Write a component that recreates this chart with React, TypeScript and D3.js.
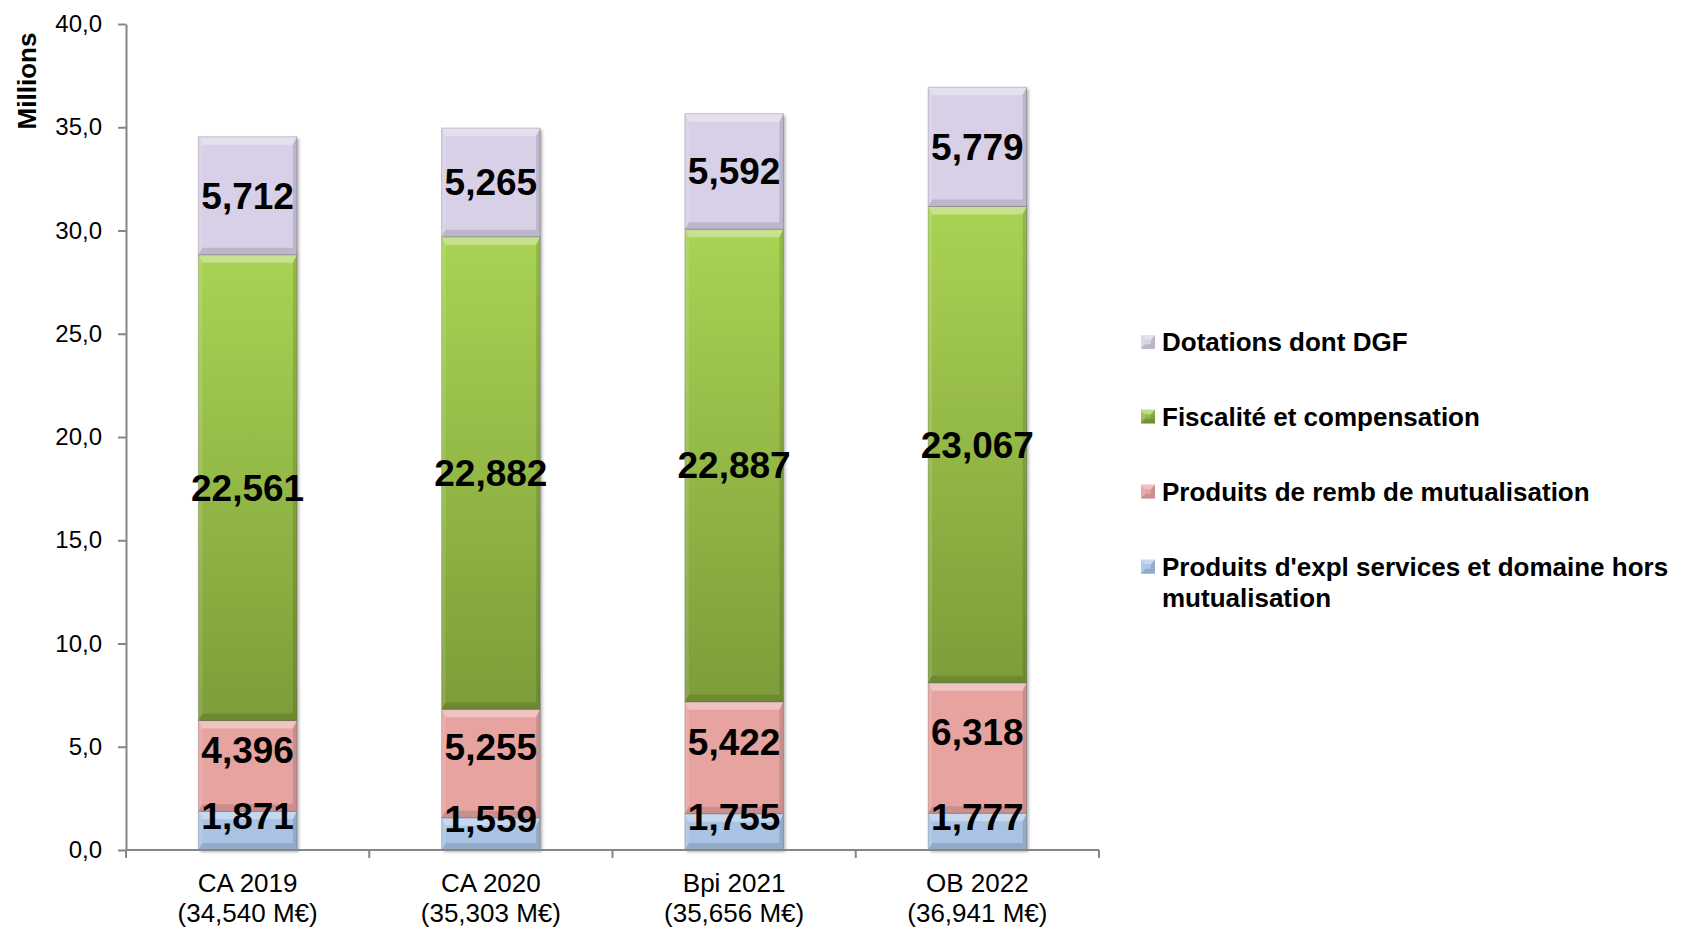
import React, { useEffect, useRef } from "react";
import * as d3 from "d3";

const categories = ["CA 2019", "CA 2020", "Bpi 2021", "OB 2022"];
const totalLabels = ["(34,540 M€)", "(35,303 M€)", "(35,656 M€)", "(36,941 M€)"];

const produitsExpl = [1.871, 1.559, 1.755, 1.777];
const produitsRemb = [4.396, 5.255, 5.422, 6.318];
const fiscalite = [22.561, 22.882, 22.887, 23.067];
const dotations = [5.712, 5.265, 5.592, 5.779];

const yTicks = [0, 5, 10, 15, 20, 25, 30, 35, 40];

// bottom to top
const series = [
  { key: "expl", name: ["Produits d'expl services et domaine hors", "mutualisation"], values: produitsExpl, color: "#a8c3e4", labelShift: -15 },
  { key: "remb", name: ["Produits de remb de mutualisation"], values: produitsRemb, color: "#e6a3a0", labelShift: -16 },
  { key: "fisc", name: ["Fiscalité et compensation"], values: fiscalite, color: "url(#greenGrad)", labelShift: 0 },
  { key: "dot", name: ["Dotations dont DGF"], values: dotations, color: "#d8d0e6", labelShift: 0 },
];

const FONT = "'Liberation Sans', Arial, Helvetica, sans-serif";

function bevel(g: any, x0: number, x1: number, y0: number, y1: number) {
  const h = y1 - y0;
  const bt = Math.min(8, h / 3);
  const bb = Math.min(7, h / 3);
  const bs = 4;
  const pts = (p: number[][]) => p.map((d) => d.join(",")).join(" ");
  g.append("polygon")
    .attr("points", pts([[x0, y0], [x1, y0], [x1 - bs, y0 + bt], [x0 + bs, y0 + bt]]))
    .attr("fill", "#fff").attr("fill-opacity", 0.35);
  g.append("polygon")
    .attr("points", pts([[x0, y1], [x1, y1], [x1 - bs, y1 - bb], [x0 + bs, y1 - bb]]))
    .attr("fill", "#000").attr("fill-opacity", 0.12);
  g.append("polygon")
    .attr("points", pts([[x0, y0], [x0 + bs, y0 + bt], [x0 + bs, y1 - bb], [x0, y1]]))
    .attr("fill", "#fff").attr("fill-opacity", 0.12);
  g.append("polygon")
    .attr("points", pts([[x1, y0], [x1 - bs, y0 + bt], [x1 - bs, y1 - bb], [x1, y1]]))
    .attr("fill", "#000").attr("fill-opacity", 0.12);
}

function StackedChart() {
  const svgRef = useRef<SVGSVGElement>(null);

  useEffect(() => {
    const width = 1683;
    const height = 928;
    const svg = d3.select(svgRef.current).attr("width", width).attr("height", height);
    svg.selectAll("*").remove();

    const defs = svg.append("defs");
    const grad = defs.append("linearGradient").attr("id", "greenGrad")
      .attr("x1", 0).attr("y1", 0).attr("x2", 0).attr("y2", 1);
    grad.append("stop").attr("offset", "0%").attr("stop-color", "#a9d353");
    grad.append("stop").attr("offset", "100%").attr("stop-color", "#7c9d39");
    const shadow = defs.append("filter").attr("id", "shadow")
      .attr("x", "-20%").attr("y", "-20%").attr("width", "140%").attr("height", "140%");
    shadow.append("feGaussianBlur").attr("stdDeviation", 1.5);

    const y = d3.scaleLinear().domain([0, 40]).range([850, 24]);
    const x = d3.scaleBand().domain(categories).range([126, 1099]).padding(0);
    const barW = x.bandwidth() * 0.405;

    // y axis
    const yAxis = d3.axisLeft(y)
      .tickValues(yTicks)
      .tickFormat((d: any) => d3.format(".1f")(d).replace(".", ","))
      .tickSize(8)
      .tickSizeOuter(0)
      .tickPadding(16);
    const yg = svg.append("g").attr("transform", "translate(126,0)").call(yAxis);
    yg.select(".domain").attr("stroke", "#868686").attr("stroke-width", 2);
    yg.selectAll(".tick line").attr("stroke", "#868686").attr("stroke-width", 2);
    yg.selectAll(".tick text").attr("font-family", FONT).attr("font-size", 24).attr("fill", "#000");

    svg.append("text")
      .attr("transform", "translate(27,81) rotate(-90)")
      .attr("text-anchor", "middle").attr("dy", "0.35em")
      .attr("font-family", FONT).attr("font-weight", "bold").attr("font-size", 26)
      .text("Millions");

    // bars
    const stackData = categories.map((c, i) => {
      const row: any = { cat: c };
      series.forEach((s) => (row[s.key] = s.values[i]));
      return row;
    });
    const stacked = d3.stack().keys(series.map((s) => s.key))(stackData);

    const barsG = svg.append("g");
    categories.forEach((c, i) => {
      const x0 = (x(c) as number) + (x.bandwidth() - barW) / 2;
      const top = stacked[stacked.length - 1][i][1];
      barsG.append("rect")
        .attr("x", x0 + 2).attr("y", y(top) + 2)
        .attr("width", barW).attr("height", y(0) - y(top))
        .attr("fill", "#000").attr("fill-opacity", 0.3)
        .attr("filter", "url(#shadow)");
    });

    stacked.forEach((layer, si) => {
      const s = series[si];
      layer.forEach((d, i) => {
        const x0 = (x(categories[i]) as number) + (x.bandwidth() - barW) / 2;
        const yt = y(d[1]);
        const yb = y(d[0]);
        const g = barsG.append("g");
        g.append("rect")
          .attr("x", x0).attr("y", yt).attr("width", barW).attr("height", yb - yt)
          .attr("fill", s.color);
        bevel(g, x0, x0 + barW, yt, yb);
        g.append("rect")
          .attr("x", x0).attr("y", yt).attr("width", barW).attr("height", yb - yt)
          .attr("fill", "none").attr("stroke", "#000").attr("stroke-opacity", 0.18).attr("stroke-width", 1);
      });
    });

    // value labels
    stacked.forEach((layer, si) => {
      const s = series[si];
      layer.forEach((d, i) => {
        const cx = (x(categories[i]) as number) + x.bandwidth() / 2;
        svg.append("text")
          .attr("x", cx).attr("y", (y(d[0]) + y(d[1])) / 2 + s.labelShift)
          .attr("dy", "0.35em").attr("text-anchor", "middle")
          .attr("font-family", FONT).attr("font-weight", "bold").attr("font-size", 37)
          .attr("fill", "#000")
          .text(d3.format(".3f")(s.values[i]).replace(".", ","));
      });
    });

    // x axis
    const xg = svg.append("g");
    xg.append("line").attr("x1", 126).attr("x2", 1099).attr("y1", 850).attr("y2", 850)
      .attr("stroke", "#868686").attr("stroke-width", 2);
    const bounds = [...categories.map((c) => x(c) as number), x.range()[1]];
    xg.selectAll(".xt").data(bounds).join("line")
      .attr("x1", (d) => d).attr("x2", (d) => d).attr("y1", 850).attr("y2", 858)
      .attr("stroke", "#868686").attr("stroke-width", 2);
    categories.forEach((c, i) => {
      const cx = (x(c) as number) + x.bandwidth() / 2;
      const t = xg.append("text").attr("text-anchor", "middle")
        .attr("font-family", FONT).attr("font-size", 26).attr("fill", "#000");
      t.append("tspan").attr("x", cx).attr("y", 883).attr("dy", "0.35em").text(c);
      t.append("tspan").attr("x", cx).attr("y", 913).attr("dy", "0.35em").text(totalLabels[i]);
    });

    // legend (top to bottom)
    const legendItems = [...series].reverse();
    const legendY = [342, 416.5, 491.6, 566.7];
    const lg = svg.append("g");
    legendItems.forEach((s, i) => {
      const ly = legendY[i];
      const g = lg.append("g");
      g.append("rect").attr("x", 1141).attr("y", ly - 7).attr("width", 14).attr("height", 14)
        .attr("fill", s.color);
      bevel(g, 1141, 1155, ly - 7, ly + 7);
      s.name.forEach((line, li) => {
        g.append("text")
          .attr("x", 1162).attr("y", ly + li * 31).attr("dy", "0.35em")
          .attr("font-family", FONT).attr("font-weight", "bold").attr("font-size", 26)
          .attr("fill", "#000")
          .text(line);
      });
    });
  }, []);

  return <svg ref={svgRef} style={{ position: "absolute", top: 0, left: 0, background: "#fff" }}></svg>;
}

export default function App() {
  return <StackedChart />;
}
